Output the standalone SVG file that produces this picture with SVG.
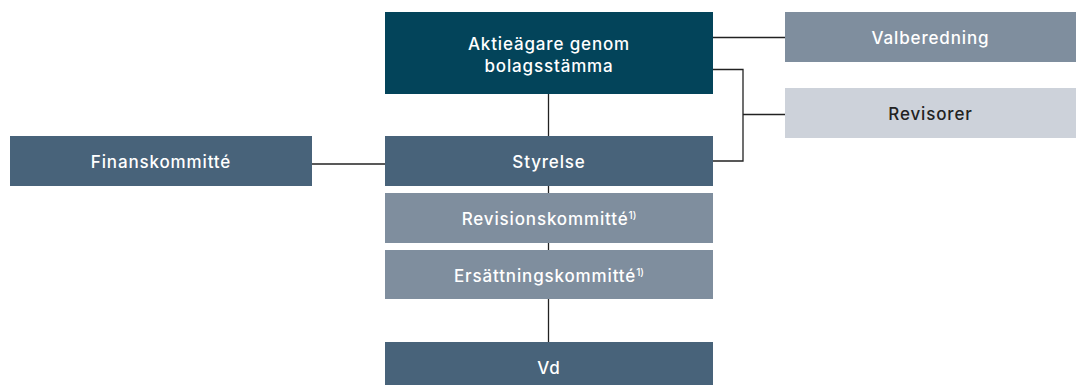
<svg xmlns="http://www.w3.org/2000/svg" width="1076" height="385" viewBox="0 0 1076 385">
<style>
text{font-family:Inter,"Open Sans","Liberation Sans",sans-serif;font-size:17px;font-weight:500;letter-spacing:0.85px;text-anchor:middle;fill:#fff}
.dark{fill:#03445a}.mid{fill:#48637a}.light{fill:#7f8e9e}.pale{fill:#cdd2da}
.c{stroke:#222;stroke-width:1.3;fill:none}
text.k{fill:#222}
.s{font-size:10px;letter-spacing:0}
</style>
<rect width="1076" height="385" fill="#fff"/>
<g id="connectors">
<line class="c" x1="548.5" y1="94" x2="548.5" y2="342"/>
<line class="c" x1="713" y1="37.5" x2="785" y2="37.5"/>
<polyline class="c" points="713,69.5 743,69.5 743,161 713,161"/>
<line class="c" x1="743" y1="114.5" x2="785" y2="114.5"/>
<line class="c" x1="312" y1="164" x2="385" y2="164"/>
</g>
<g id="aktieagare"><rect class="dark" x="385" y="12" width="328" height="82"/><text x="549" y="50">Aktieägare genom</text><text x="549" y="72">bolagsstämma</text></g>
<g id="valberedning"><rect class="light" x="785" y="12" width="291" height="50"/><text x="930.5" y="44">Valberedning</text></g>
<g id="revisorer"><rect class="pale" x="785" y="88" width="291" height="50"/><text class="k" x="930.5" y="120">Revisorer</text></g>
<g id="finanskommitte"><rect class="mid" x="10" y="136" width="302" height="50"/><text x="161" y="168">Finanskommitté</text></g>
<g id="styrelse"><rect class="mid" x="385" y="136" width="328" height="50"/><text x="549" y="168">Styrelse</text></g>
<g id="revisionskommitte"><rect class="light" x="385" y="193" width="328" height="50"/><text x="549" y="225">Revisionskommitté<tspan class="s" dy="-6">1)</tspan></text></g>
<g id="ersattningskommitte"><rect class="light" x="385" y="250" width="328" height="49"/><text x="549" y="282">Ersättningskommitté<tspan class="s" dy="-6">1)</tspan></text></g>
<g id="vd"><rect class="mid" x="385" y="342" width="328" height="43"/><text x="549" y="374">Vd</text></g>
</svg>
